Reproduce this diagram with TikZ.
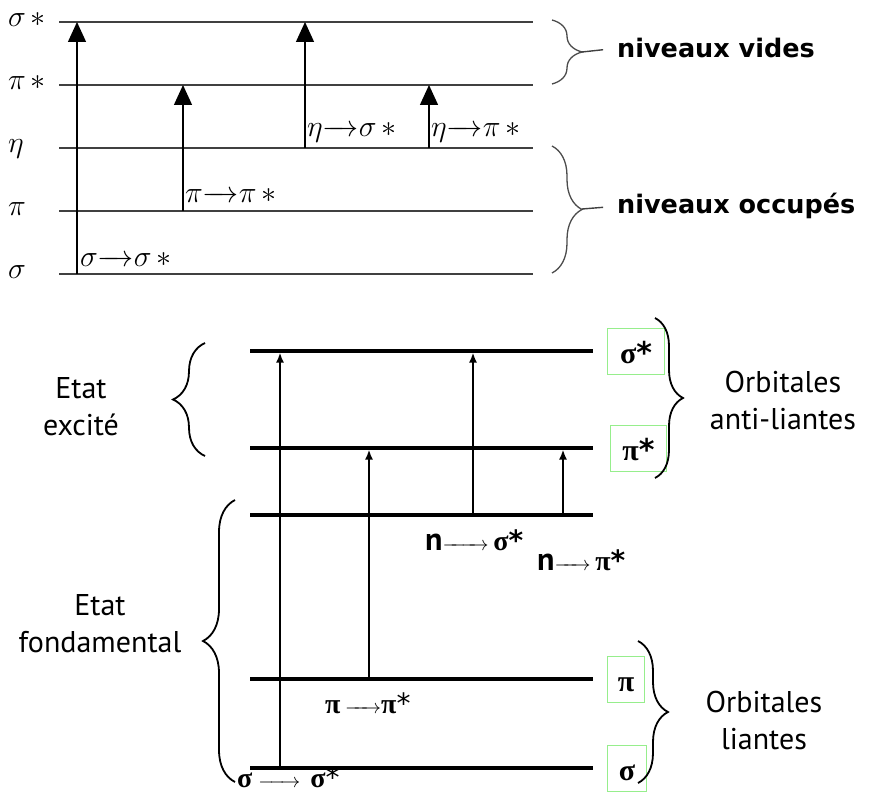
\RequirePackage{fix-cm}
\documentclass[tikz,border=0pt]{standalone}
\usepackage{fontspec}
\setmainfont{DejaVu Sans}
\newfontfamily\labfont{PT Sans}
\newfontfamily\grkfont{Liberation Serif}
\usetikzlibrary{arrows.meta,decorations.pathreplacing,positioning}
\definecolor{boxgreen}{RGB}{150,238,140}
% arrows inside the transition labels
\newcommand{\tarr}[1]{\makebox[#1]{\rightarrowfill}}
\newcommand{\sarr}[1]{{\fontsize{20}{20}\selectfont\makebox[#1]{\rightarrowfill}}}
\newcommand{\gk}[1]{{\grkfont\bfseries #1}}

\begin{document}
\begin{tikzpicture}[x=1pt,y=-1pt,
    lvl/.style = {draw=black!75, line width=1.4pt},
    lvlb/.style = {draw=black, line width=3.6pt},
    up/.style = {line width=1.4pt, -{Triangle[length=20pt,width=18pt]}},
    upb/.style = {line width=2.4pt, shorten >=1.5pt, -{Latex[length=10pt,width=8pt]}},
    curly/.style = {decorate, decoration={brace, amplitude=#1}},
    grk/.style = {inner sep=0pt, font=\fontsize{30}{34}\selectfont},
    big/.style = {inner sep=0pt, font=\bfseries\fontsize{25.5}{30}\selectfont},
    lab/.style = {align=center, inner sep=0pt, font=\labfont\fontsize{30}{37}\selectfont},
    gbox/.style = {draw=boxgreen, line width=1pt, minimum height=46pt, inner sep=0pt,
                   text height=29pt, text depth=5pt, font=\fontsize{30}{30}\selectfont},
    trans/.style = {inner sep=0pt, font=\fontsize{28}{30}\selectfont}]
\useasboundingbox (0,0) rectangle (872,794);

% niveaux (haut)
\foreach \n/\y/\t in {ss/22/\sigma\,\ast, ps/85/\pi\,\ast, e/148/\eta, p/211/\pi, s/274/\sigma} {
    \coordinate (\n L) at (59,\y);
    \coordinate (\n R) at (533,\y);
    \draw[lvl] (\n L) -- (\n R);
    \node[grk, anchor=mid west] (l\n) at (8,\y+2) {$\t$};
}
\foreach \i/\x/\a/\b in {1/77/274/22, 2/183/211/85, 3/305/148/22, 4/429/148/85} {
    \coordinate (f\i) at (\x,\a);
    \coordinate (t\i) at (\x,\b);
    \draw[up] (f\i) -- (t\i);
}
\node[grk, anchor=base west] (tr1) at (80,266) {$\sigma$\tarr{36pt}$\sigma\,\ast$};
\node[grk, anchor=base west] (tr2) at (185,203) {$\pi$\tarr{36pt}$\pi\,\ast$};
\node[grk, anchor=base west] (tr3) at (307,137) {$\eta$\tarr{36pt}$\sigma\,\ast$};
\node[grk, anchor=base west] (tr4) at (431,137) {$\eta$\tarr{36pt}$\pi\,\ast$};

\draw[curly=30, draw=black!70, line width=1.3pt] (552,20) -- (552,84);
\draw[curly=30, draw=black!70, line width=1.3pt] (552,146) -- (552,273);
\coordinate (bv) at (582,52);
\coordinate (bo) at (582,209);
\node[big, anchor=mid west] (nv) at (617,55) {niveaux vides};
\node[big, anchor=mid west] (no) at (617,211) {niveaux occupés};
\draw[lvl, shorten >=14pt] (bv) -- (nv.west);
\draw[lvl, shorten >=14pt] (bo) -- (no.west);

% niveaux (bas)
\foreach \n/\y in {Ss/351, Ps/448, N/515, P/679, S/768} {
    \coordinate (\n L) at (250,\y);
    \coordinate (\n R) at (593,\y);
    \draw[lvlb] (\n L) -- (\n R);
}
\foreach \i/\x/\a/\b in {5/280/768/351, 6/369/679/448, 7/473/515/351, 8/563/515/448} {
    \coordinate (f\i) at (\x,\a);
    \coordinate (t\i) at (\x,\b);
    \draw[upb] (f\i) -- (t\i);
}
\node[gbox, minimum width=57pt, right=14pt of SsR] (bSs) {\gk{σ}{\bfseries *}};
\node[gbox, minimum width=56pt, right=17pt of PsR] (bPs) {\gk{π}{\bfseries *}};
\node[gbox, minimum width=37pt, right=14pt of PR] (bP) {\gk{π}};
\node[gbox, minimum width=39pt, right=14pt of SR] (bS) {\gk{σ}};

\node[trans, anchor=base west] (tn1) at (425,550)
    {{\labfont\bfseries\fontsize{32}{32}\selectfont n}\sarr{46pt}\,\gk{σ}{\bfseries *}};
\node[trans, anchor=base west] (tn2) at (537,570)
    {{\labfont\bfseries\fontsize{32}{32}\selectfont n}\sarr{36pt}\,\gk{π}{\bfseries *}};
\node[trans, anchor=base west] (tpp) at (325,713) {\gk{π}\,\sarr{36pt}\gk{π}*};
\node[trans, anchor=base west] (tss) at (237,787)
    {\gk{σ}\hspace{6pt}\sarr{42pt}\hspace{10pt}\gk{σ}*};

\draw[curly=28, line width=1.8pt] (655,318) -- (655,478);
\draw[curly=30, line width=1.8pt] (638,641) -- (638,783);
\draw[curly=32, line width=1.8pt] (205,456) -- (205,343);
\draw[curly=32, line width=1.8pt] (235,782) -- (235,500);

\node[lab] (oal) at (783,400) {Orbitales\\anti-liantes};
\node[lab] (ol) at (764,720) {Orbitales\\liantes};
\node[lab] (ee) at (81,407) {Etat\\excité};
\node[lab] (ef) at (100,624) {Etat\\fondamental};
\end{tikzpicture}
\end{document}
